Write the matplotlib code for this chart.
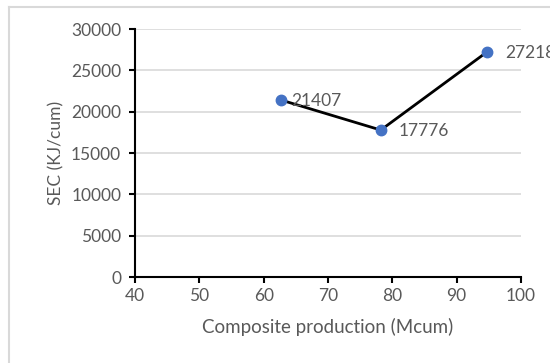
import matplotlib.pyplot as plt
from matplotlib.lines import Line2D

# Data
production = [62.7, 78.2, 94.7]
sec_values = [21407, 17776, 27218]
point_labels = ["21407", "17776", "27218"]

x_ticks = [40, 50, 60, 70, 80, 90, 100]
y_ticks = [0, 5000, 10000, 15000, 20000, 25000, 30000]

text_grey = "#595959"
grid_grey = "#d9d9d9"

plt.rcParams["font.family"] = ["Lato", "DejaVu Sans"]

fig = plt.figure(figsize=(5.5, 3.63), dpi=100)
ax = fig.add_axes([0.2455, 0.2369, 0.7018, 0.6832])

# chart frame pieces (top and left edge visible in the reference)
fig.add_artist(Line2D([0.016, 1.0], [0.981, 0.981], color=grid_grey, lw=1.5,
                      transform=fig.transFigure))
fig.add_artist(Line2D([0.016, 0.016], [0.0, 0.981], color=grid_grey, lw=1.5,
                      transform=fig.transFigure))

ax.plot(production, sec_values, color="black", lw=2, zorder=3,
        marker="o", markersize=7.5, markerfacecolor="#4472C4",
        markeredgecolor="#4472C4")

# data labels to the right of each point
offsets = [7, 13, 13]
for x, y, lab, dx in zip(production, sec_values, point_labels, offsets):
    ax.annotate(lab, (x, y), xytext=(dx, -1), textcoords="offset points",
                ha="left", va="center", fontsize=12.5, color=text_grey,
                annotation_clip=False, zorder=4)

ax.set_xlim(40, 100)
ax.set_ylim(0, 30000)
ax.set_xticks(x_ticks)
ax.set_yticks(y_ticks)
ax.set_xticklabels([str(t) for t in x_ticks])
ax.set_yticklabels([str(t) for t in y_ticks])

ax.grid(axis="y", color=grid_grey, lw=1.2)
ax.set_axisbelow(True)

for side in ["top", "right"]:
    ax.spines[side].set_visible(False)
for side in ["left", "bottom"]:
    ax.spines[side].set_color("black")
    ax.spines[side].set_linewidth(1.5)

ax.tick_params(axis="both", direction="out", length=4, width=1.5,
               color="black", labelcolor=text_grey, labelsize=12.5)
ax.tick_params(axis="x", pad=4)
ax.tick_params(axis="y", pad=6)

ax.set_xlabel("Composite production (Mcum)", fontsize=13.5, color=text_grey,
              labelpad=10)
ax.set_ylabel("SEC (KJ/cum)", fontsize=12.5, color=text_grey, labelpad=5)

fig.savefig("out.png", dpi=100)
